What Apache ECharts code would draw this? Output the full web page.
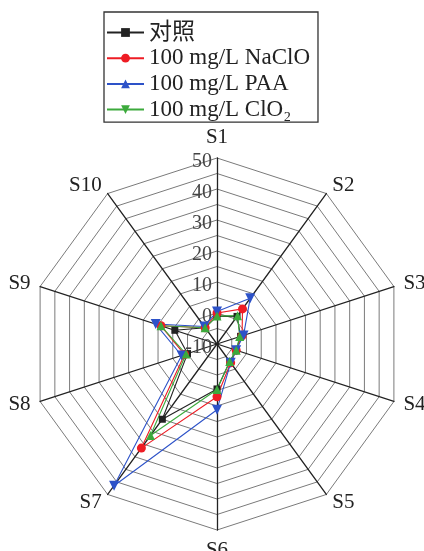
<!DOCTYPE html>
<html>
<head>
<meta charset="utf-8">
<script src="https://cdn.jsdelivr.net/npm/echarts@6/dist/echarts.min.js"></script>
<style>html,body{margin:0;padding:0;background:#fff}#c{width:424px;height:551px}</style>
</head>
<body>
<div id="c"></div>
<script>
// Sample axes (clockwise from top)
const categories = ['S1','S2','S3','S4','S5','S6','S7','S8','S9','S10'];
const seriesNames = ['对照','100 mg/L NaClO','100 mg/L PAA','100 mg/L ClO₂'];
const controlVals = [-1, 1, -2, -3.5, -3, 4.5, 20, 0, 4.3, -3.5];
const naclоVals  = [0, 4, -1.5, -3.5, -2.5, 7, 31.5, 1, 9, -3.5];
const paaVals    = [0.5, 8.2, -1, -3.5, -2.5, 11.2, 46.5, 2, 10.8, -3];
const clo2Vals   = [-1, 1.3, -2.3, -3.5, -3, 4.7, 26.5, 0.5, 9, -3.5];
const axisMin = -10, axisMax = 50;
const tickLabels = [-10, 0, 10, 20, 30, 40, 50];

const allVals = [controlVals, naclоVals, paaVals, clo2Vals];
const colors = ['#222222', '#ee1c24', '#2d52c8', '#3caa3c'];
const symbols = ['rect', 'circle', 'triangle', 'triangle'];
const plotRot = [0, 0, 180, 0];
const legendRot = [0, 0, 0, 180];
const sizes = [7, 9, 10, 9];

// ECharts radar runs counter-clockwise; reorder to put S2 on the right
const order = [0, 9, 8, 7, 6, 5, 4, 3, 2, 1];
const serif = "'Liberation Serif', 'Noto Sans CJK SC', serif";

const chart = echarts.init(document.getElementById('c'), null, {renderer: 'canvas'});

const legendSeries = seriesNames.map((n, i) => ({
  type: 'line', name: n, data: [], xAxisIndex: 0, yAxisIndex: 0,
  symbol: symbols[i], symbolRotate: legendRot[i], symbolSize: sizes[i],
  itemStyle: {color: colors[i]}, lineStyle: {color: colors[i], width: 1.2}
}));
const radarSeries = seriesNames.map((n, i) => ({
  type: 'radar', name: n, radarIndex: 0,
  symbol: symbols[i], symbolRotate: plotRot[i], symbolSize: sizes[i],
  itemStyle: {color: colors[i]}, lineStyle: {color: colors[i], width: 1.1},
  data: [{name: n, value: order.map(k => allVals[i][k])}]
}));

chart.setOption({
  animation: false,
  color: colors,
  grid: {show: false, left: -50, top: -50, width: 10, height: 10},
  xAxis: {type: 'value', show: false},
  yAxis: {type: 'value', show: false},
  legend: {
    data: seriesNames,
    orient: 'vertical', left: 104, top: 12,
    borderColor: '#333', borderWidth: 1.3, borderRadius: 0,
    padding: [9, 8, 1, 2],
    itemWidth: 37, itemHeight: 11, itemGap: 2.7,
    textStyle: {fontFamily: serif, fontSize: 23, color: '#222', lineHeight: 22}
  },
  radar: {
    center: [217, 344], radius: 186, startAngle: 90,
    shape: 'polygon', splitNumber: 12,
    indicator: order.map(k => ({name: categories[k], min: axisMin, max: axisMax})),
    axisName: {color: '#222', fontSize: 21, fontFamily: serif},
    nameGap: 10,
    splitLine: {lineStyle: {color: '#7a7a7a', width: 1}},
    splitArea: {show: false},
    axisLine: {lineStyle: {color: '#222', width: 1.3}},
    axisTick: {show: false},
    axisLabel: {show: false}
  },
  polar: {center: [217, 344], radius: 186},
  angleAxis: {show: false, startAngle: 90, type: 'value', min: 0, max: 360},
  radiusAxis: {
    min: axisMin, max: axisMax, interval: 10,
    axisLine: {show: false}, axisTick: {show: false}, splitLine: {show: false},
    axisLabel: {show: true, fontFamily: serif, fontSize: 20, color: '#444', margin: 5,
      formatter: v => tickLabels.includes(v) ? '{t|' + v + '}' : '',
      rich: {t: {fontFamily: serif, fontSize: 20, color: '#444', padding: [7, 0, 0, 0]}}}
  },
  series: legendSeries.concat(radarSeries)
});
</script>
</body>
</html>
